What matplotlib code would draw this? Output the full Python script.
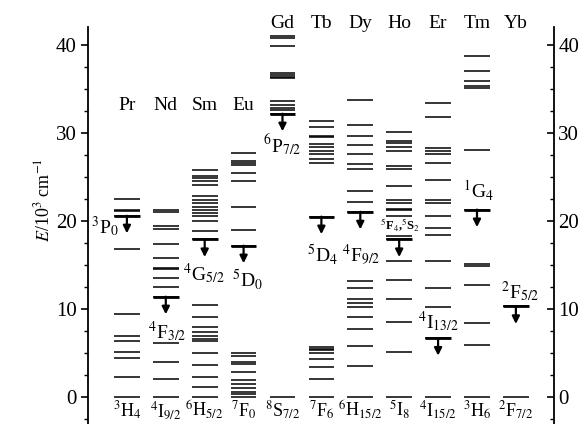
import numpy as np
import matplotlib.pyplot as plt
from matplotlib.ticker import MultipleLocator

plt.rcParams['font.family'] = ['Liberation Serif', 'DejaVu Serif']
plt.rcParams['mathtext.fontset'] = 'stix'

# energy levels, 10^3 cm^-1
elements = ['Pr', 'Nd', 'Sm', 'Eu', 'Gd', 'Tb', 'Dy', 'Ho', 'Er', 'Tm', 'Yb']
pr = [0, 2.3, 4.4, 5.1, 6.4, 6.9, 9.4, 16.8, 20.6, 21.1, 21.3, 22.5]
nd = [0, 2.0, 4.0, 6.1, 11.4, 12.5, 13.5, 14.5, 14.7, 15.8, 17.35, 19.1, 19.4, 21.0, 21.25]
sm = [0, 1.1, 2.3, 3.6, 5.0, 6.4, 6.6, 6.9, 7.4, 8.0, 9.1, 10.45,
      17.9, 18.9, 20.0, 20.6, 20.9, 21.2, 21.6, 22.0, 22.4, 22.8, 24.1, 24.5, 24.85, 25.15, 25.8]
eu = [0, 0.35, 0.6, 1.0, 1.5, 1.9, 2.8, 3.8, 4.0, 4.7, 5.0,
      17.2, 19.0, 21.55, 24.5, 25.5, 26.4, 26.55, 26.85, 27.7]
gd = [0, 32.2, 32.6, 32.9, 33.2, 33.6, 36.2, 36.4, 36.6, 36.8, 39.9, 40.75, 41.0]
tb = [0, 2.1, 3.4, 4.3, 5.0, 5.3, 5.5, 5.7, 20.5,
      26.6, 27.1, 27.6, 28.0, 28.45, 28.75, 29.5, 29.7, 30.7, 31.4]
dy = [0, 3.55, 5.8, 7.7, 9.1, 10.2, 10.7, 11.1, 12.4, 13.2,
      21.05, 22.2, 23.4, 25.9, 26.5, 27.6, 28.6, 29.7, 30.9, 33.8]
ho = [0, 5.15, 8.55, 11.1, 13.3, 15.5, 17.9, 18.3, 20.6, 21.2, 21.4, 22.1, 22.4,
      24.0, 25.9, 26.3, 27.95, 28.45, 28.9, 29.1, 30.15]
er = [0, 6.7, 10.25, 12.35, 15.4, 18.4, 19.2, 20.6, 22.1, 22.35, 24.65,
      26.55, 27.6, 27.95, 28.25, 31.8, 33.45]
tm = [0, 5.9, 8.4, 12.7, 14.9, 15.1, 21.3, 28.1, 35.15, 35.35, 35.9, 37.0, 38.75]
yb = [0, 10.3]
levels = [pr, nd, sm, eu, gd, tb, dy, ho, er, tm, yb]

# emitting level of each ion (arrow start) and term symbols
emitting = [20.6, 11.4, 17.9, 17.2, 32.2, 20.5, 21.05, 17.9, 6.7, 21.3, 10.3]
emit_terms = [r'$^3$P$_0$', r'$^4$F$_{3/2}$', r'$^4$G$_{5/2}$', r'$^5$D$_0$',
              r'$^6$P$_{7/2}$', r'$^5$D$_4$', r'$^4$F$_{9/2}$', r'$^5$F$_4$,$^5$S$_2$',
              r'$^4$I$_{13/2}$', r'$^1$G$_4$', r'$^2$F$_{5/2}$']
ground_terms = [r'$^3$H$_4$', r'$^4$I$_{9/2}$', r'$^6$H$_{5/2}$', r'$^7$F$_0$',
                r'$^8$S$_{7/2}$', r'$^7$F$_6$', r'$^6$H$_{15/2}$', r'$^5$I$_8$',
                r'$^4$I$_{15/2}$', r'$^3$H$_6$', r'$^2$F$_{7/2}$']

# label placement (x offset from column, baseline energy)
term_pos = [(-0.2, 18.6), (0.03, 6.7), (-0.02, 13.3), (0.09, 12.5), (0.0, 27.7),
            (0.02, 15.35), (0.02, 15.35), (0.02, 19.0), (0.02, 7.8), (0.03, 22.6),
            (0.1, 11.25)]
name_y = [33.1] * 4 + [42.5] * 7

fig = plt.figure(figsize=(5.8, 4.24), dpi=100)
ax = fig.add_axes([88 / 580, 0, 466 / 580, 397 / 424])
ax.set_xlim(-1, 10.98)
ax.set_ylim(-3.07, 42.05)

hw = 0.33
for i, lv in enumerate(levels):
    ax.hlines(lv, i - hw, i + hw, color='k', lw=1.1)
    ax.hlines(emitting[i], i - hw, i + hw, color='k', lw=2.0)
    ax.annotate('', xy=(i, emitting[i] - 2.0), xytext=(i, emitting[i]),
                arrowprops=dict(arrowstyle='-|>', color='k', lw=1.6,
                                mutation_scale=11, shrinkA=0, shrinkB=0))
    ax.text(i, name_y[i], elements[i], ha='center', va='center', fontsize=14)
    dx, ty = term_pos[i]
    fs = 9 if i == 7 else 14
    ax.text(i + dx, ty, emit_terms[i], ha='right' if i == 0 else 'center',
            va='baseline', fontsize=fs, fontweight='bold' if i == 7 else 'normal')
    ax.text(i, -2.25, ground_terms[i], ha='center', va='baseline', fontsize=13,
            clip_on=False)

for side in ['top', 'bottom']:
    ax.spines[side].set_visible(False)
ax.spines['right'].set_visible(False)
ax.spines['left'].set_linewidth(1.3)
ax.set_xticks([])
ax.set_yticks([0, 10, 20, 30, 40])
ax.yaxis.set_minor_locator(MultipleLocator(2.5))
ax.tick_params(axis='y', which='major', direction='out', length=5, width=1.2,
               labelsize=15, pad=3)
ax.tick_params(axis='y', which='minor', direction='out', length=3, width=1.0)
ax.set_ylabel(r'$E$/10$^3$ cm$^{-1}$', fontsize=13)
ax.yaxis.set_label_coords(-0.075, 0.565)

ax2 = ax.twinx()
ax2.set_ylim(ax.get_ylim())
for side in ['top', 'bottom', 'left']:
    ax2.spines[side].set_visible(False)
ax2.spines['right'].set_linewidth(1.3)
ax2.set_yticks([0, 10, 20, 30, 40])
ax2.yaxis.set_minor_locator(MultipleLocator(2.5))
ax2.tick_params(axis='y', which='major', direction='in', length=5, width=1.2,
                labelsize=15, pad=3)
ax2.tick_params(axis='y', which='minor', direction='in', length=3, width=1.0)

fig.savefig('out.png', dpi=100)
